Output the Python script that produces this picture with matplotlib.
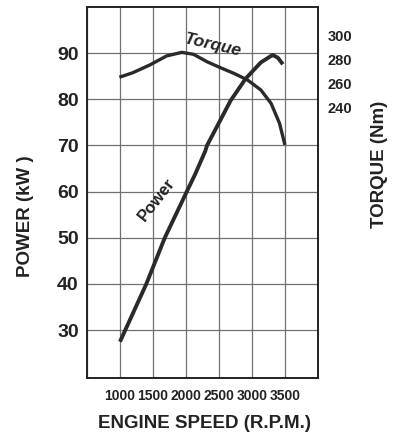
import matplotlib.pyplot as plt

# datos
power_rpm = [1000, 1399, 1679, 2012, 2140, 2293, 2319, 2676, 2906, 3136, 3290, 3316, 3393, 3469]
power_kw = [27.5, 40.0, 50.0, 60.0, 63.8, 68.8, 70.0, 79.7, 84.5, 88.0, 89.4, 89.6, 89.0, 87.6]

torque_rpm = [1015, 1193, 1449, 1706, 1936, 2113, 2319, 2523, 2727, 2933, 3136, 3290, 3418, 3494]
torque_nm = [265.5, 268.8, 275.2, 282.8, 285.8, 284.2, 278.0, 273.0, 268.3, 262.8, 254.4, 243.3, 226.7, 210.0]

x_ticks = [1000, 1500, 2000, 2500, 3000, 3500]
power_ticks = [30, 40, 50, 60, 70, 80, 90]
torque_ticks = [240, 260, 280, 300]

plt.rcParams['font.family'] = ['Liberation Sans', 'DejaVu Sans']
ink = '#222222'

fig = plt.figure(figsize=(4.08, 4.37), dpi=100)
ax = fig.add_axes([0.2132, 0.1357, 0.566, 0.8483])

ax.plot(power_rpm, power_kw, color='#2a2a2a', lw=2.8, solid_capstyle='butt')
ax.set_xlim(500, 4000)
ax.set_ylim(19.7, 100)
ax.set_xticks([500] + x_ticks + [4000])
ax.set_xticklabels([''] + [str(v) for v in x_ticks] + [''],
                   fontweight='bold', fontsize=10, color=ink)
ax.set_yticks(power_ticks)
ax.set_yticklabels([str(v) for v in power_ticks],
                   fontweight='bold', fontsize=14, color=ink)
ax.tick_params(length=0)
ax.tick_params(axis='y', pad=6)
ax.tick_params(axis='x', pad=8)
ax.grid(True, color='#707070', lw=0.9)
for s in ax.spines.values():
    s.set_linewidth(1.4)
    s.set_color(ink)

ax2 = ax.twinx()
ax2.plot(torque_rpm, torque_nm, color='#2a2a2a', lw=2.4)
ax2.set_ylim(14.7, 323.6)
ax2.set_yticks(torque_ticks)
ax2.set_yticklabels([str(v) for v in torque_ticks],
                    fontweight='bold', fontsize=10.5, color=ink)
ax2.tick_params(length=0, pad=7)
for s in ax2.spines.values():
    s.set_visible(False)

ax.text(2400, 91.7, 'Torque', fontweight='bold', fontstyle='italic',
        fontsize=12.5, rotation=-13, ha='center', va='center', color=ink)
ax.text(1557, 58.3, 'Power', fontweight='bold',
        fontsize=12, rotation=52, ha='center', va='center', color=ink)

fig.text(26 / 408, 1 - 216 / 437, 'POWER (kW )', rotation=90, ha='center', va='center',
         fontsize=13.5, fontweight='bold', color=ink)
fig.text(380 / 408, 1 - 164 / 437, 'TORQUE (Nm)', rotation=90, ha='center', va='center',
         fontsize=13.5, fontweight='bold', color=ink)
fig.text(204 / 408, 1 - 423 / 437, 'ENGINE SPEED (R.P.M.)', ha='center', va='center',
         fontsize=13.5, fontweight='bold', color=ink)

fig.savefig('out.png', dpi=100)
